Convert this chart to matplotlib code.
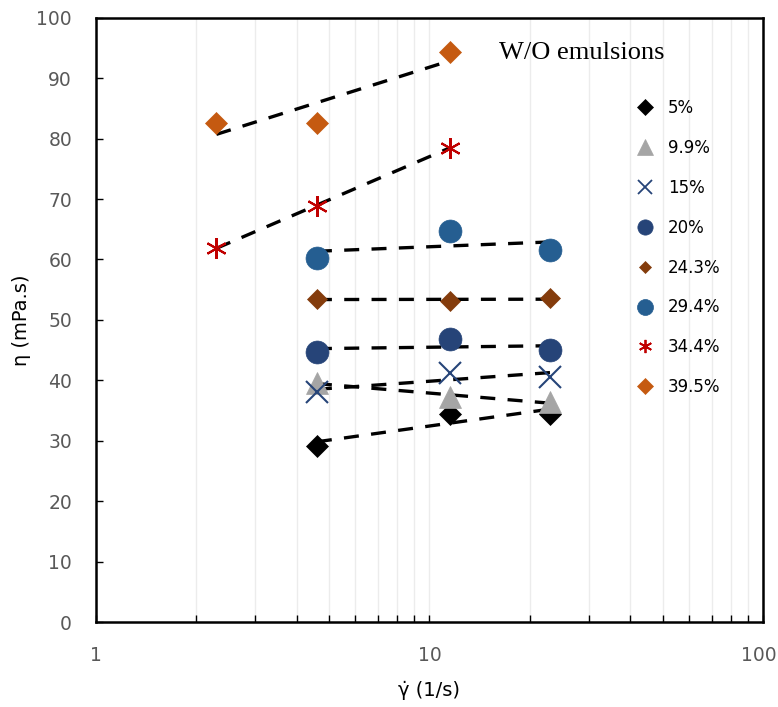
import numpy as np
import matplotlib
matplotlib.use("Agg")
import matplotlib.pyplot as plt
import matplotlib.transforms as mtransforms
from matplotlib.ticker import LogLocator, FixedLocator, NullFormatter

# shear rates (1/s) and viscosities (mPa.s)
rate3 = [4.6, 11.5, 23.0]
rate_low = [2.3, 4.6, 11.5]

labels = ["5%", "9.9%", "15%", "20%", "24.3%", "29.4%", "34.4%", "39.5%"]
eta_5 = [29.2, 34.4, 34.4]
eta_99 = [39.6, 37.3, 36.4]
eta_15 = [38.0, 41.3, 40.6]
eta_20 = [44.7, 46.8, 45.0]
eta_243 = [53.5, 53.1, 53.6]
eta_294 = [60.3, 64.7, 61.5]
eta_344 = [61.9, 68.9, 78.5]
eta_395 = [82.6, 82.6, 94.3]

# x, y, marker, colour, marker size in plot, marker size in legend
series = [
    (rate3, eta_5, "D", "black", 11.5, 7.8),
    (rate3, eta_99, "^", "#a5a5a5", 16, 11.5),
    (rate3, eta_15, "x", "#264478", 16, 10),
    (rate3, eta_20, "o", "#264478", 16.5, 11),
    (rate3, eta_243, "D", "#843c0c", 10, 6.6),
    (rate3, eta_294, "o", "#255e91", 16.5, 11.5),
    (rate_low, eta_344, (6, 2, 0), "#c00000", 15, 9.5),
    (rate_low, eta_395, "D", "#c55a11", 11.5, 8),
]

fig = plt.figure(figsize=(7.78, 7.07), dpi=100)
ax = fig.add_axes([0.123, 0.120, 0.858, 0.855])

handles = []
for (x, y, m, c, s, ls), lab in zip(series, labels):
    lined = m in ("x", (6, 2, 0))
    ax.plot(x, y, linestyle="none", marker=m, color=c, markersize=s,
            markeredgewidth=1.5 if lined else 0.5, zorder=3)
    # logarithmic trendline
    k, b = np.polyfit(np.log10(x), y, 1)
    xt = np.array([x[0], x[-1]])
    ax.plot(xt, k * np.log10(xt) + b, linestyle=(0, (4.5, 3.7)), color="black",
            linewidth=2.4, zorder=2)
    h, = ax.plot([], [], linestyle="none", marker=m, color=c, markersize=ls,
                 markeredgewidth=1.3 if lined else 0.5)
    handles.append(h)

ax.set_xscale("log")
ax.set_xlim(1, 100)
ax.set_ylim(0, 100)
ax.set_yticks(range(0, 101, 10))
ax.xaxis.set_major_locator(FixedLocator([1, 10, 100]))
ax.xaxis.set_minor_locator(LogLocator(base=10, subs=np.arange(2, 10)))
ax.xaxis.set_minor_formatter(NullFormatter())
ax.set_xticklabels(["1", "10", "100"])

ax.grid(True, which="both", axis="x", color="#ececec", linewidth=1.0, zorder=0)
ax.set_axisbelow(True)

for sp in ax.spines.values():
    sp.set_linewidth(1.8)
    sp.set_color("black")

ax.tick_params(axis="x", which="both", direction="in", top=False, length=5,
               width=1.0, colors="black", labelcolor="#595959", labelsize=13.5, pad=17)
ax.tick_params(axis="y", direction="in", length=5, width=1.0, colors="black",
               labelcolor="#595959", labelsize=13.5, pad=17)

# keep the "100" label inside the picture
last = ax.get_xticklabels()[-1]
last.set_transform(last.get_transform() +
                   mtransforms.ScaledTranslation(-4 / 100, 0, fig.dpi_scale_trans))

ax.set_xlabel("γ̇ (1/s)", fontsize=14, color="black", labelpad=11.5)
ax.set_ylabel("η (mPa.s)", fontsize=14, color="black", labelpad=4)

ax.text(0.604, 0.942, "W/O emulsions", transform=ax.transAxes,
        fontfamily="Liberation Serif", fontsize=19, va="center", ha="left")

leg = ax.legend(handles, labels, loc="upper left", bbox_to_anchor=(0.785, 0.89),
                frameon=False, fontsize=12, labelspacing=1.31,
                handletextpad=0.78, handlelength=1.2)

fig.savefig("out.png", dpi=100)
